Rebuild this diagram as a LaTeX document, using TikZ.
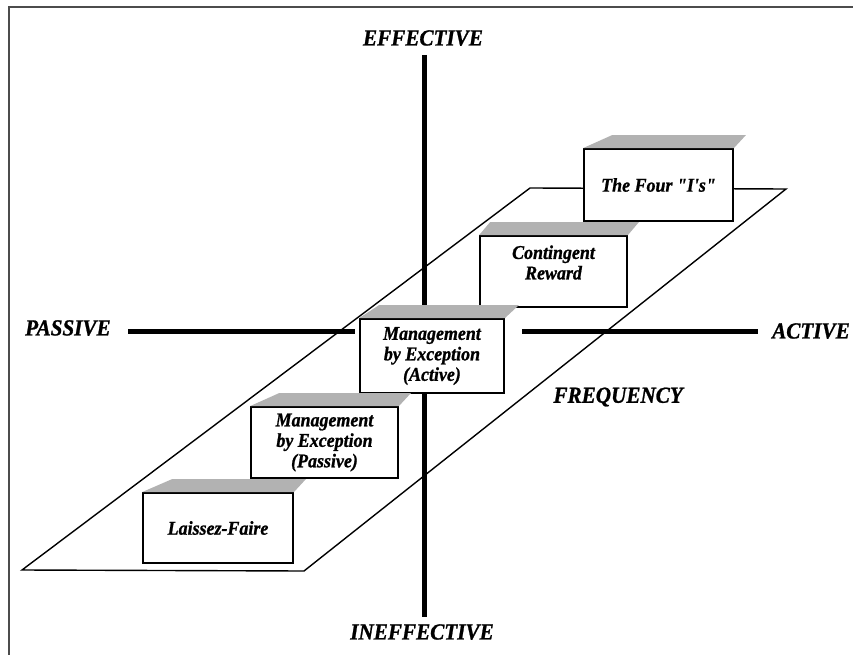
\documentclass[tikz,border=0pt]{standalone}
\usepackage{fontspec}
\newfontfamily\lblfont{Liberation Serif}[FakeStretch=0.92, FakeBold=1]
\usetikzlibrary{calc}
\tikzset{
  box/.style={draw=black, line width=1.8pt, fill=white, rectangle, inner sep=0pt, align=center},
  lbl/.style={font=\lblfont\bfseries\itshape\fontsize{19.5}{20.5}\selectfont, align=center, inner sep=0pt},
  axlbl/.style={font=\lblfont\bfseries\itshape\fontsize{23}{25}\selectfont, inner sep=0pt},
  axisline/.style={line width=5pt, black},
  plane/.style={line width=1.4pt, black, line join=miter},
  topface/.style={fill=black!30, draw=none},
  frameline/.style={draw=black!70, line width=2pt}
}
\newcommand{\boxtop}[3]{\fill[topface] (#1.north west) -- ++(#2,-13) -- ($(#1.north east)+(#3,-13)$) -- (#1.north east) -- cycle;}
\begin{document}
\begin{tikzpicture}[x=1pt,y=-1pt]
\useasboundingbox (0,0) rectangle (853,655);
% frame
\draw[frameline] (9,655) -- (9,7) -- (853,7);
% plane
\coordinate (p1) at (22,570);
\coordinate (p2) at (530,188);
\coordinate (p3) at (786,189);
\coordinate (p4) at (304,571);
\draw[plane] (p1) -- (p2) -- (p3) -- (p4) -- cycle;
% axis labels
\node[axlbl] (eff) at (423,38) {EFFECTIVE};
\node[axlbl] (ineff) at (422,632) {INEFFECTIVE};
\node[axlbl, anchor=west] (pas) at (25,328) {PASSIVE};
\node[axlbl, anchor=west] (act) at (772,331) {ACTIVE};
\node[axlbl, anchor=east] (freq) at (683,397) {FREQUENCY};
% axes
\coordinate (vt) at (424,55);
\coordinate (vb) at (424,617);
\coordinate (hl1) at (128,331);
\coordinate (hl2) at (355,331);
\coordinate (hr1) at (522,331);
\coordinate (hr2) at (758,331);
\draw[axisline] (vt) -- (vb);
\draw[axisline] (hl1) -- (hl2);
\draw[axisline] (hr1) -- (hr2);
% boxes
\node[box, minimum width=149pt, minimum height=72pt] (fouri) at (658.5,185) {};
\boxtop{fouri}{29}{12}
\node[lbl] (fouritxt) at (fouri.center) {The Four "I's"};

\node[box, minimum width=147pt, minimum height=71pt] (cont) at (553.5,271.5) {};
\boxtop{cont}{11}{11}
\node[lbl] (conttxt) at ($(cont.center)+(0,-9)$) {Contingent\\Reward};

\node[box, minimum width=144pt, minimum height=74pt] (mbea) at (432,356) {};
\boxtop{mbea}{20}{14}
\node[lbl] (mbeatxt) at (mbea.center) {Management\\by Exception\\(Active)};

\node[box, minimum width=147pt, minimum height=71pt] (mbep) at (324.5,442.5) {};
\boxtop{mbep}{29}{12}
\node[lbl] (mbeptxt) at (mbep.center) {Management\\by Exception\\(Passive)};

\node[box, minimum width=150pt, minimum height=70pt] (lf) at (218,528) {};
\boxtop{lf}{30}{12}
\node[lbl] (lftxt) at (lf.center) {Laissez-Faire};
\end{tikzpicture}
\end{document}
